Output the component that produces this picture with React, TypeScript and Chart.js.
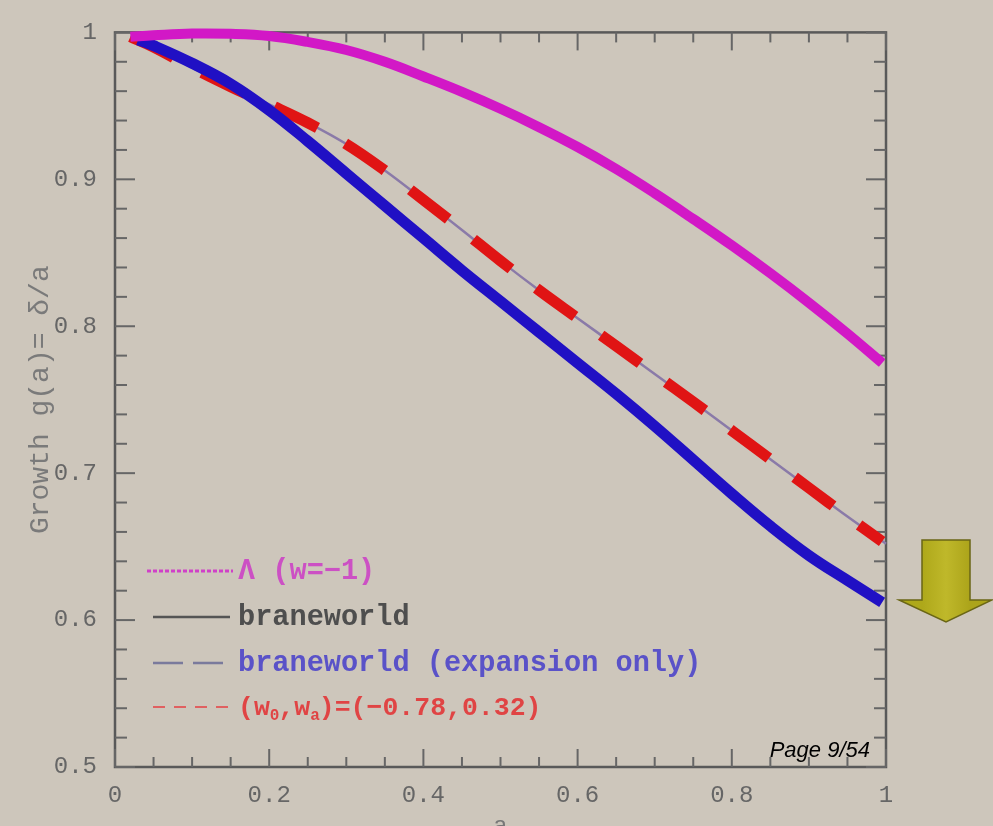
import React, { useEffect, useRef } from "react";
import { Chart, registerables } from "chart.js";

Chart.register(...registerables);

// ---- data ----
const lambdaA = [0.02, 0.05, 0.1, 0.15, 0.2, 0.25, 0.3, 0.35, 0.4, 0.45, 0.5, 0.55, 0.6, 0.65, 0.7, 0.75, 0.8, 0.85, 0.9, 0.95, 0.995];
const lambdaG = [0.997, 0.998, 0.9992, 0.999, 0.9975, 0.9935, 0.988, 0.980, 0.970, 0.9595, 0.948, 0.9355, 0.922, 0.907, 0.8905, 0.873, 0.855, 0.836, 0.816, 0.795, 0.775];

const braneA = [0.03, 0.05, 0.1, 0.15, 0.2, 0.25, 0.3, 0.35, 0.4, 0.45, 0.5, 0.55, 0.6, 0.65, 0.7, 0.75, 0.8, 0.85, 0.9, 0.95, 0.995];
const braneG = [0.995, 0.991, 0.979, 0.965, 0.947, 0.926, 0.904, 0.882, 0.860, 0.838, 0.817, 0.796, 0.775, 0.754, 0.732, 0.709, 0.686, 0.664, 0.644, 0.627, 0.612];

const w0waA = [0.02, 0.05, 0.1, 0.15, 0.2, 0.25, 0.3, 0.35, 0.4, 0.45, 0.5, 0.55, 0.6, 0.65, 0.7, 0.75, 0.8, 0.85, 0.9, 0.95, 0.995];
const w0waG = [0.997, 0.990, 0.976, 0.963, 0.951, 0.9385, 0.924, 0.906, 0.886, 0.8655, 0.8445, 0.8245, 0.8055, 0.7865, 0.7675, 0.7485, 0.729, 0.7095, 0.690, 0.6705, 0.6535];

const expA = [0.02, 0.05, 0.1, 0.15, 0.2, 0.25, 0.3, 0.35, 0.4, 0.45, 0.5, 0.55, 0.6, 0.65, 0.7, 0.75, 0.8, 0.85, 0.9, 0.95, 1.0];
const expG = [0.997, 0.990, 0.976, 0.963, 0.951, 0.9385, 0.924, 0.906, 0.886, 0.8655, 0.8445, 0.8245, 0.8055, 0.7865, 0.7675, 0.7485, 0.729, 0.7095, 0.690, 0.6705, 0.652];

const xTicks = [0, 0.2, 0.4, 0.6, 0.8, 1];
const xTickLabels = ["0", "0.2", "0.4", "0.6", "0.8", "1"];
const yTicks = [0.5, 0.6, 0.7, 0.8, 0.9, 1];
const yTickLabels = ["0.5", "0.6", "0.7", "0.8", "0.9", "1"];

const legendLabels = ["Λ (w=−1)", "braneworld", "braneworld (expansion only)", "(w0,wa)=(−0.78,0.32)"];
const xTitle = "a";
const yTitle = "Growth g(a)= δ/a";
const pageLabel = "Page 9/54";

const BG = "#cdc6bb";
const LABEL_FONT = '"Liberation Mono", "DejaVu Sans Mono", monospace';

const toPts = (xs: number[], ys: number[]) => xs.map((x, i) => ({ x, y: ys[i] }));

const framePlugin = {
  id: "frameTicks",
  beforeDatasetsDraw(chart: any) {
    const { ctx, chartArea, scales } = chart;
    const { left, right, top, bottom } = chartArea;
    const x = scales.x;
    const y = scales.y;
    ctx.save();
    ctx.strokeStyle = "#595959";
    ctx.lineWidth = 2.5;
    ctx.strokeRect(left, top, right - left, bottom - top);
    ctx.lineWidth = 2;
    ctx.strokeStyle = "#666666";
    const seg = (x1: number, y1: number, x2: number, y2: number) => {
      ctx.beginPath();
      ctx.moveTo(x1, y1);
      ctx.lineTo(x2, y2);
      ctx.stroke();
    };
    for (let i = 0; i <= 20; i++) {
      const v = i * 0.05;
      const px = x.getPixelForValue(v);
      const len = i % 4 === 0 ? 18 : 10;
      seg(px, bottom, px, bottom - len);
      seg(px, top, px, top + len);
    }
    for (let i = 0; i <= 25; i++) {
      const v = 0.5 + i * 0.02;
      const py = y.getPixelForValue(v);
      const len = i % 5 === 0 ? 20 : 12;
      seg(left, py, left + len, py);
      seg(right, py, right - len, py);
    }
    ctx.restore();
  },
};

const legendPlugin = {
  id: "inLegend",
  afterDatasetsDraw(chart: any) {
    const { ctx, chartArea } = chart;
    const { left, bottom, right } = chartArea;
    ctx.save();
    const rowsY = [bottom - 196, bottom - 150, bottom - 104, bottom - 60];
    const lineStyles = [
      { c: "#d040c8", w: 3, dash: [4, 2], x1: left + 32, x2: left + 118 },
      { c: "#555555", w: 2.5, dash: [], x1: left + 38, x2: left + 115 },
      { c: "#7a7a9c", w: 2.5, dash: [30, 10], x1: left + 38, x2: left + 108 },
      { c: "#e06060", w: 2, dash: [12, 9], x1: left + 38, x2: left + 117 },
    ];
    const textColors = ["#cc50c4", "#4e4e4e", "#5a52c8", "#e04444"];
    const tx = left + 123;
    ctx.textBaseline = "middle";
    ctx.textAlign = "left";
    rowsY.forEach((ry, i) => {
      const s = lineStyles[i];
      ctx.strokeStyle = s.c;
      ctx.lineWidth = s.w;
      ctx.setLineDash(s.dash);
      ctx.beginPath();
      ctx.moveTo(s.x1, ry);
      ctx.lineTo(s.x2, ry);
      ctx.stroke();
      ctx.setLineDash([]);
      ctx.fillStyle = textColors[i];
      ctx.font = `bold 28.6px ${LABEL_FONT}`;
      if (i < 3) {
        ctx.fillText(legendLabels[i], tx, ry + 1);
      } else {
        // (w0,wa)=(...) with subscripts
        const t = legendLabels[3];
        let cx = tx;
        const big = `bold 26.5px ${LABEL_FONT}`;
        const small = `bold 16px ${LABEL_FONT}`;
        const parts: [string, boolean][] = [
          [t.slice(0, 2), false],
          [t.slice(2, 3), true],
          [t.slice(3, 5), false],
          [t.slice(5, 6), true],
          [t.slice(6), false],
        ];
        parts.forEach(([p, sub]) => {
          ctx.font = sub ? small : big;
          ctx.fillText(p, cx, sub ? ry + 9 : ry + 1);
          cx += ctx.measureText(p).width - (sub ? 1 : 0);
        });
      }
    });
    // page label
    ctx.font = 'italic 22px "Liberation Sans", Arial, sans-serif';
    ctx.fillStyle = "#000000";
    ctx.textAlign = "right";
    ctx.textBaseline = "alphabetic";
    ctx.fillText(pageLabel, right - 16, bottom - 10);
    ctx.restore();
  },
};

const arrowPlugin = {
  id: "arrow",
  afterDraw(chart: any) {
    const { ctx, chartArea } = chart;
    const { right, bottom } = chartArea;
    const sx1 = right + 36;
    const sx2 = right + 84;
    const sTop = bottom - 227;
    const hTop = bottom - 167;
    const hx1 = right + 13;
    const hx2 = right + 106;
    const tipX = right + 60;
    const tipY = bottom - 145;
    ctx.save();
    ctx.beginPath();
    ctx.moveTo(sx1, sTop);
    ctx.lineTo(sx2, sTop);
    ctx.lineTo(sx2, hTop);
    ctx.lineTo(hx2, hTop);
    ctx.lineTo(tipX, tipY);
    ctx.lineTo(hx1, hTop);
    ctx.lineTo(sx1, hTop);
    ctx.closePath();
    const g = ctx.createLinearGradient(sx1, 0, sx2, 0);
    g.addColorStop(0, "#aea81a");
    g.addColorStop(0.5, "#bfb82a");
    g.addColorStop(1, "#aca41a");
    ctx.fillStyle = g;
    ctx.fill();
    ctx.strokeStyle = "#6a6616";
    ctx.lineWidth = 1.5;
    ctx.stroke();
    ctx.restore();
  },
};

export default function App() {
  const ref = useRef<HTMLCanvasElement | null>(null);

  useEffect(() => {
    if (!ref.current) return;
    const tickFont = { family: LABEL_FONT, size: 24 };
    const titleFont = { family: LABEL_FONT, size: 28 };
    const chart = new Chart(ref.current, {
      type: "line",
      data: {
        datasets: [
          {
            label: legendLabels[0],
            data: toPts(lambdaA, lambdaG),
            borderColor: "#d218c6",
            borderWidth: 10,
            pointRadius: 0,
            tension: 0.4,
            fill: false,
            clip: false,
            order: 1,
          },
          {
            label: legendLabels[1],
            data: toPts(braneA, braneG),
            borderColor: "#2010c4",
            borderWidth: 11,
            pointRadius: 0,
            tension: 0.4,
            fill: false,
            clip: false,
            order: 2,
          },
          {
            label: legendLabels[3],
            data: toPts(w0waA, w0waG),
            borderColor: "#e01414",
            borderWidth: 11,
            borderDash: [48, 32],
            pointRadius: 0,
            tension: 0.4,
            fill: false,
            clip: false,
            order: 3,
          },
          {
            label: legendLabels[2],
            data: toPts(expA, expG),
            borderColor: "#8a7aa8",
            borderWidth: 2.5,
            pointRadius: 0,
            tension: 0.4,
            fill: false,
            clip: false,
            order: 4,
          },
        ],
      } as any,
      options: {
        responsive: false,
        animation: false,
        events: [],
        layout: { padding: { left: 0, right: 107, top: 20, bottom: 0 } },
        plugins: {
          legend: { display: false },
          tooltip: { enabled: false },
        },
        scales: {
          x: {
            type: "linear",
            min: 0,
            max: 1,
            afterBuildTicks: (s: any) => {
              s.ticks = xTicks.map((v) => ({ value: v }));
            },
            afterFit: (s: any) => {
              s.height = 93;
            },
            ticks: {
              autoSkip: false,
              maxRotation: 0,
              padding: 14,
              color: "#666666",
              font: tickFont,
              callback: (_v: any, i: number) => xTickLabels[i],
            },
            grid: { display: false, drawTicks: false },
            border: { display: false },
            title: {
              display: true,
              text: xTitle,
              color: "#777777",
              font: tickFont,
              padding: { top: 0, bottom: 19 },
            },
          },
          y: {
            type: "linear",
            min: 0.5,
            max: 1,
            afterBuildTicks: (s: any) => {
              s.ticks = yTicks.map((v) => ({ value: v }));
            },
            afterFit: (s: any) => {
              s.width = 115;
            },
            ticks: {
              autoSkip: false,
              padding: 18,
              color: "#666666",
              font: tickFont,
              callback: (_v: any, i: number) => yTickLabels[i],
            },
            grid: { display: false, drawTicks: false },
            border: { display: false },
            title: {
              display: true,
              text: yTitle,
              color: "#7a7a7a",
              font: titleFont,
              padding: { top: 24, bottom: 0 },
            },
          },
        },
      } as any,
      plugins: [framePlugin, legendPlugin, arrowPlugin],
    });
    return () => chart.destroy();
  }, []);

  return (
    <div
      style={{
        position: "fixed",
        left: 0,
        top: 0,
        width: 993,
        height: 826,
        overflow: "hidden",
        background: BG,
      }}
    >
      <canvas ref={ref} width={993} height={860} style={{ display: "block" }} />
    </div>
  );
}
